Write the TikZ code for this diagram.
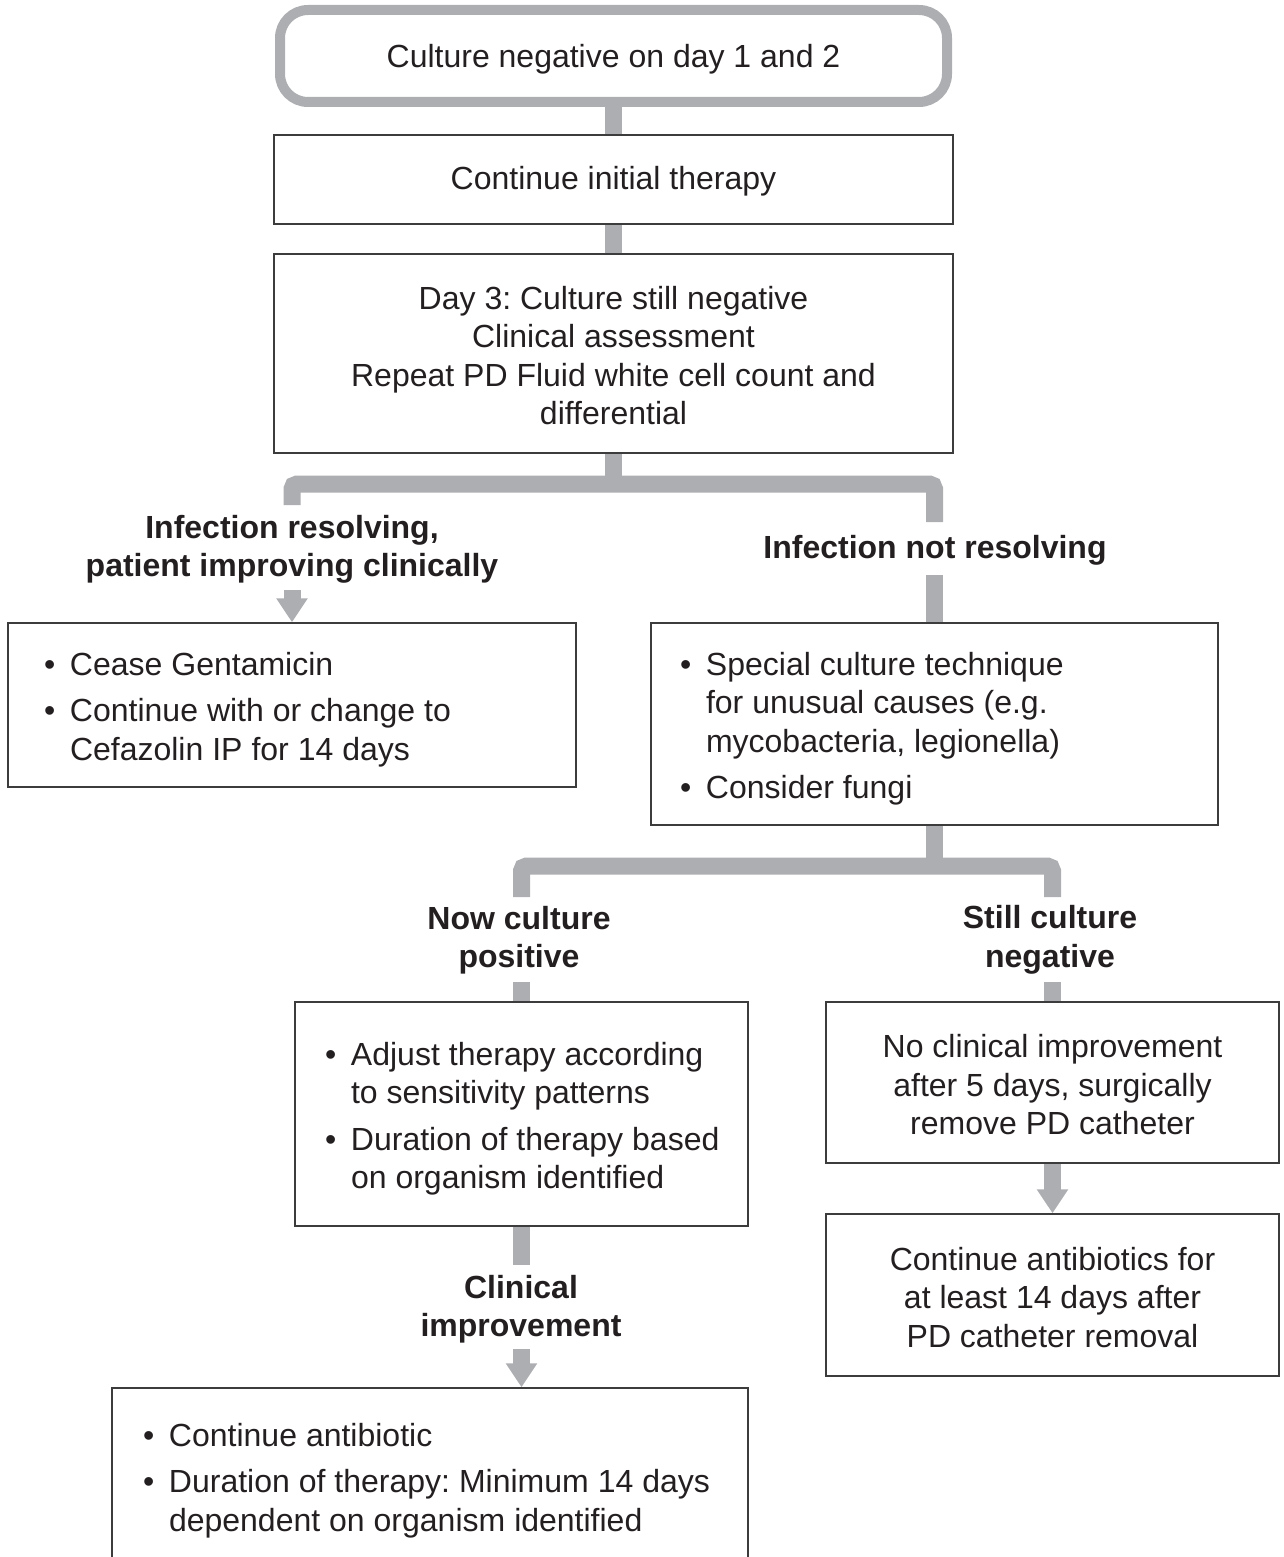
\documentclass[tikz,border=0pt]{standalone}
\usepackage{fontspec}
\setmainfont{Liberation Sans}
\usetikzlibrary{arrows.meta}
\definecolor{conngray}{RGB}{173,174,177}
\definecolor{boxline}{RGB}{60,60,60}
\definecolor{txt}{RGB}{35,31,32}
\frenchspacing
\newcommand\mybul{\makebox[26pt][l]{•}}
\newcommand\li[1]{\mbox{\spaceskip=8.95pt\relax\mybul#1}}
\newcommand\lc[1]{\mbox{\spaceskip=8.95pt\relax\hspace*{26pt}#1}}
\newcommand\tpb{\rule{0pt}{32.5pt}}
\newcommand\tpc{\rule{0pt}{27.5pt}}
\newcommand\tpt{\rule{0pt}{29.5pt}}
\begin{document}
\begin{tikzpicture}[x=1pt,y=-1pt,
  every node/.style={font=\fontsize{32}{38.5}\selectfont, text=txt},
  box/.style={draw=boxline, line width=1.5pt, inner sep=0pt, align=center},
  blist/.style={box, align=left},
  lbl/.style={font=\fontsize{32}{38.5}\selectfont\bfseries, align=center, inner sep=0pt},
  conn/.style={draw=conngray, line width=17pt},
  arr/.style={conn, -{Triangle[width=30pt,length=24pt]}},
]
\useasboundingbox (0,0) rectangle (1283,1557);
\clip (0,0) rectangle (1283,1557);

% boxes
\node[box, rounded corners=28pt, draw=conngray, line width=10pt, minimum width=667pt, minimum height=92pt] (top) at (613.5,56) {\tpt Culture negative on day 1 and 2};
\node[box, minimum width=679pt, minimum height=89pt] (cont) at (613.5,179.5) {\tpc Continue initial therapy};
\node[box, minimum width=679pt, minimum height=199pt] (day3) at (613.5,353.5) {\tpc Day 3: Culture still negative\\Clinical assessment\\Repeat PD Fluid white cell count and\\differential};

\node[blist, text width=496pt, inner xsep=36pt, minimum height=164pt] (lb) at (292,705)
 {\tpb\li{Cease Gentamicin}\\[8pt]\li{Continue with or change to}\\\lc{Cefazolin IP for 14 days}};
\node[blist, text width=509pt, inner xsep=29pt, minimum height=202pt] (rb) at (934.5,724)
 {\tpb\li{Special culture technique}\\\lc{for unusual causes (e.g.}\\\lc{mycobacteria, legionella)}\\[8pt]\li{Consider fungi}};

\node[blist, text width=393pt, inner xsep=30pt, minimum height=224pt] (nb) at (521.5,1114)
 {\tpb\li{Adjust therapy according}\\\lc{to sensitivity patterns}\\[8pt]\li{Duration of therapy based}\\\lc{on organism identified}};
\node[box, minimum width=453pt, minimum height=161pt] (nc) at (1052.5,1082.5) {\tpc No clinical improvement\\after 5 days, surgically\\remove PD catheter};
\node[box, minimum width=453pt, minimum height=162pt] (ca) at (1052.5,1295) {\tpc Continue antibiotics for\\at least 14 days after\\PD catheter removal};
\node[blist, text width=574pt, inner xsep=31pt, minimum height=176pt] (bot) at (430,1476)
 {\tpb\li{Continue antibiotic}\\[8pt]\li{Duration of therapy: Minimum 14 days}\\\lc{dependent on organism identified}};

% labels
\node[lbl] (l1) at (292,549.5) {Infection resolving,\\patient improving clinically};
\node[lbl] (l2) at (935,550) {Infection not resolving};
\node[lbl] (l3) at (519,940) {Now culture\\positive};
\node[lbl] (l4) at (1050,940) {Still culture\\negative};
\node[lbl] (l5) at (521,1309) {Clinical\\improvement};

% connectors
\draw[conn] (top.south) -- (cont.north);
\draw[conn] (cont.south) -- (day3.north);
\coordinate (b1m) at (613.5,484);
\coordinate (b1l) at (292,505);
\coordinate (b1r) at (934.5,522);
\draw[conn] (day3.south) -- (b1m);
\draw[conn, rounded corners=5pt] (b1l) |- (b1m) -| (b1r);
\coordinate (r1) at (934.5,575);
\draw[conn] (r1) -- (rb.north);
\coordinate (a1) at (292,590);
\draw[arr] (a1) -- (lb.north);

\coordinate (b2m) at (934.5,866);
\coordinate (b2l) at (521.5,897);
\coordinate (b2r) at (1052.5,897);
\draw[conn] (rb.south) -- (b2m);
\draw[conn, rounded corners=5pt] (b2l) |- (b2m) -| (b2r);
\coordinate (c2l) at (521.5,982);
\draw[conn] (c2l) -- (nb.north);
\coordinate (c2r) at (1052.5,982);
\draw[conn] (c2r) -- (nc.north);
\draw[arr] (nc.south) -- (ca.north);

\coordinate (c3) at (521.5,1265);
\draw[conn] (nb.south) -- (c3);
\coordinate (a3) at (521.5,1349);
\draw[arr] (a3) -- (a3 |- bot.north);
\end{tikzpicture}
\end{document}
